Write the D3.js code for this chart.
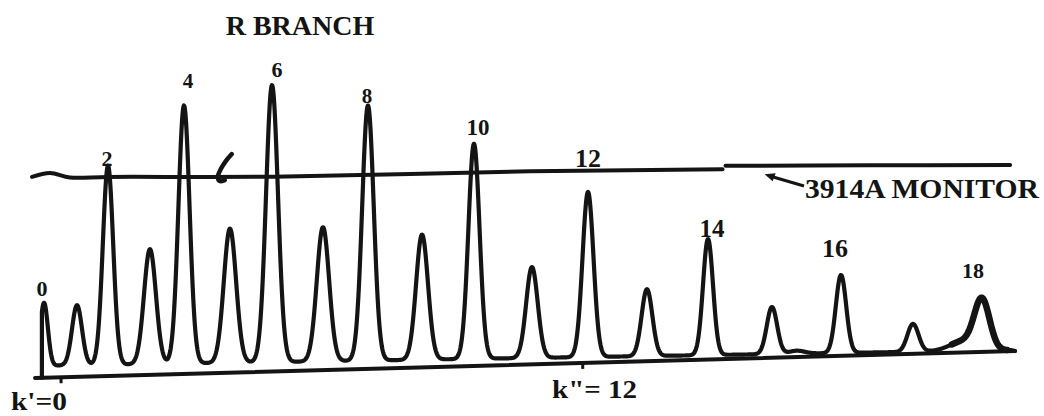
<!DOCTYPE html>
<html>
<head>
<meta charset="utf-8">
<script src="https://cdn.jsdelivr.net/npm/d3@7"></script>
<style>
  html, body { margin: 0; padding: 0; background: #fff; }
  svg { display: block; }
  text { font-family: "Liberation Serif", "DejaVu Serif", serif; font-weight: bold; fill: #141414; }
</style>
</head>
<body>
<svg id="chart" width="1044" height="416"></svg>
<script>
// R-branch rotational lines, k = 0 … 18 (position along the chart in % of trace length)
const lineK      = [0, 1, 2, 3, 4, 5, 6, 7, 8, 9, 10, 11, 12, 13, 14, 15, 16, 17, 18];
const peakPos    = [0.72, 4.09, 7.26, 11.55, 15.03, 19.73, 24.03, 29.24, 33.84, 39.37,
                    44.68, 50.61, 56.34, 62.37, 68.61, 75.15, 82.21, 89.57, 96.63];
// recorder deflection, % of full scale
const peakHeight = [21, 20, 66.3, 38.3, 86, 44.7, 92.3, 44.7, 85, 41.7,
                    71.7, 30.3, 55, 22.3, 38.7, 15.7, 26, 9.3, 15.9];
// line width (Gaussian sigma, same units as position)
const peakWidth  = [0.39, 0.51, 0.53, 0.61, 0.57, 0.63, 0.61, 0.63, 0.59, 0.61,
                    0.57, 0.59, 0.56, 0.55, 0.51, 0.53, 0.53, 0.57, 0.77];
// weak unresolved features on the high-k side
const shoulderPos    = [77.7, 94.9];
const shoulderHeight = [1.0, 3.4];
const shoulderWidth  = [0.8, 1.5];

// 3914 A monitor trace, two pen segments: [position, deflection %]
const monitorA = [[-0.51, 63.0], [1.33, 64.2], [3.37, 62.6], [7.3, 62.6], [24.2, 61.8], [50.4, 62.2], [70.1, 61.9]];
const monitorB = [[70.4, 63.0], [85, 62.4], [99.5, 61.8]];

// labelled lines and reference marks
const labelK   = [0, 2, 4, 6, 8, 10, 12, 14, 16, 18];
const refMarks = [{ pos: 2.46, text: "k'=0" }, { pos: 55.8, text: 'k"= 12' }];
const title    = "R BRANCH";
const monitorLabel = "3914A MONITOR";

// ---- scales ----
const svg = d3.select("#chart");
const x = d3.scaleLinear().domain([0, 100]).range([37, 1015]);
const floorY = d3.scaleLinear().domain([0, 100]).range([365.85, 350.2]);   // pen zero, slightly skewed paper
const axisY  = d3.scaleLinear().domain([0, 100]).range([377.9, 351]);      // ruled base line
const h = d3.scaleLinear().domain([0, 100]).range([0, 300]);
const yAt = (p, v) => floorY(p) - h(v);

function signal(p) {
  let s = 0;
  for (let i = 0; i < peakPos.length; i++) {
    const d = (p - peakPos[i]) / peakWidth[i];
    s += peakHeight[i] * Math.exp(-0.5 * d * d);
  }
  for (let i = 0; i < shoulderPos.length; i++) {
    const d = (p - shoulderPos[i]) / shoulderWidth[i];
    s += shoulderHeight[i] * Math.exp(-0.5 * d * d);
  }
  return s;
}

const ink = "#141414";

// ruled base line with reference ticks
svg.append("line")
  .attr("x1", x(-0.2)).attr("y1", axisY(-0.2))
  .attr("x2", x(100)).attr("y2", axisY(100))
  .attr("stroke", ink).attr("stroke-width", 4).attr("stroke-linecap", "round");

svg.selectAll("line.tick").data(refMarks).join("line")
  .attr("class", "tick")
  .attr("x1", d => x(d.pos)).attr("y1", d => axisY(d.pos))
  .attr("x2", d => x(d.pos)).attr("y2", d => axisY(d.pos) + 6)
  .attr("stroke", ink).attr("stroke-width", 3);

// spectrum trace
const startPos = 0.5, endPos = 99.6;
const samples = d3.range(startPos, endPos, 0.04).map(p => [p, signal(p)]);
const tracePts = [[x(startPos), axisY(startPos)]].concat(samples.map(([p, v]) => [x(p), yAt(p, v)]));
tracePts.push([x(100), axisY(100)]);

svg.append("path")
  .attr("d", d3.line().curve(d3.curveLinear)(tracePts))
  .attr("fill", "none").attr("stroke", ink).attr("stroke-width", 4.2)
  .attr("stroke-linejoin", "round").attr("stroke-linecap", "round");

// heavier pen over the blended k = 18 feature
const heavy = samples.filter(([p]) => p > 93.5 && p < 99.2).map(([p, v]) => [x(p), yAt(p, v)]);
svg.append("path")
  .attr("d", d3.line()(heavy))
  .attr("fill", "none").attr("stroke", ink).attr("stroke-width", 6.5)
  .attr("stroke-linejoin", "round").attr("stroke-linecap", "round");

// monitor trace
const mLine = d3.line().x(d => x(d[0])).y(d => yAt(d[0], d[1])).curve(d3.curveCatmullRom);
[monitorA, monitorB].forEach(seg => {
  svg.append("path")
    .attr("d", mLine(seg))
    .attr("fill", "none").attr("stroke", ink).attr("stroke-width", 4)
    .attr("stroke-linecap", "round");
});

// pen flick on the monitor trace
const flickAt = [x(19.1), yAt(19.1, 62.6)];
svg.append("path")
  .attr("transform", `translate(${flickAt[0]},${flickAt[1]})`)
  .attr("d", d3.line().curve(d3.curveCatmullRom)([[8, -21], [2, -14], [-3, -6], [-6, 2], [-4, 6], [1, 5]]))
  .attr("fill", "none").attr("stroke", ink).attr("stroke-width", 4.5).attr("stroke-linecap", "round");

// line numbers over the even-k peaks
const labelDx   = [-2, -1, 4, 5, -1, 4, 0, 4, -6, -9];
const labelLift = [7, 0, 17, 8, 3, 9, 25, 2, 18, 20];
const labelSize = [22, 22, 21, 22, 21, 23, 26, 25, 26, 22];
svg.selectAll("text.k").data(labelK).join("text")
  .attr("class", "k")
  .attr("text-anchor", "middle")
  .attr("x", (k, i) => x(peakPos[k]) + labelDx[i])
  .attr("y", (k, i) => yAt(peakPos[k], signal(peakPos[k])) - labelLift[i])
  .attr("font-size", (k, i) => labelSize[i])
  .text(k => k);

// title
svg.append("text")
  .attr("x", 300).attr("y", 35)
  .attr("text-anchor", "middle").attr("font-size", 28)
  .text(title);

// monitor annotation with arrow
const tipPos = 74.4;
const tip = [x(tipPos), yAt(tipPos, 62.3) + 7];
const tail = [804, 186];
svg.append("line")
  .attr("x1", tail[0]).attr("y1", tail[1]).attr("x2", tip[0] + 6).attr("y2", tip[1] + 2)
  .attr("stroke", ink).attr("stroke-width", 3);
svg.append("path")
  .attr("d", `M${tip[0]},${tip[1]} l11,-1 l-3,8 z`)
  .attr("fill", ink);
svg.append("text")
  .attr("x", 805).attr("y", 198)
  .attr("font-size", 27)
  .attr("textLength", 234).attr("lengthAdjust", "spacingAndGlyphs")
  .text(monitorLabel);

// reference mark captions
svg.append("text")
  .attr("x", 11).attr("y", 410).attr("font-size", 25)
  .attr("textLength", 56).attr("lengthAdjust", "spacingAndGlyphs")
  .text(refMarks[0].text);
svg.append("text")
  .attr("x", 552).attr("y", 398).attr("font-size", 26)
  .attr("textLength", 85).attr("lengthAdjust", "spacingAndGlyphs")
  .text(refMarks[1].text);
</script>
</body>
</html>
